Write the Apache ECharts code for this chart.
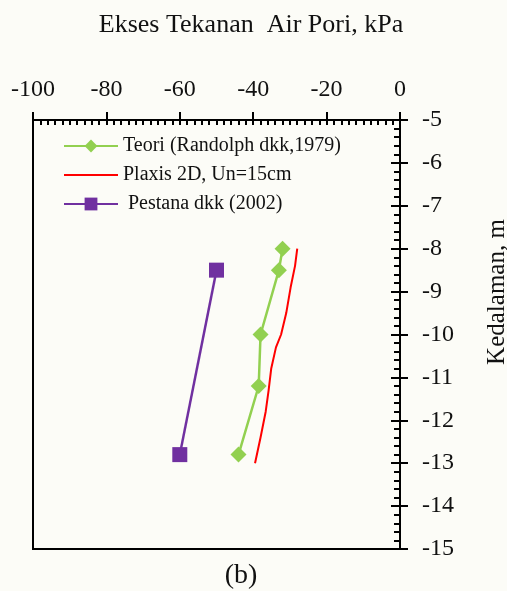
<!DOCTYPE html>
<html>
<head>
<meta charset="utf-8">
<script src="https://cdn.jsdelivr.net/npm/echarts@6/dist/echarts.min.js"></script>
<style>
  html, body { margin: 0; padding: 0; background: #fcfcf7; }
  #chart { width: 507px; height: 591px; }
</style>
</head>
<body>
<div id="chart"></div>
<script>
// data: [tekanan kPa, kedalaman m]
var teori = [[-32, -8], [-33, -8.5], [-38, -10], [-38.5, -11.2], [-44, -12.8]];
var plaxis = [[-28, -8], [-28.6, -8.4], [-29.8, -8.9], [-31, -9.5], [-32.4, -10], [-33.8, -10.3],
              [-35.1, -10.8], [-35.8, -11.3], [-36.6, -11.8], [-38, -12.4], [-39.5, -13]];
var pestana = [[-50, -8.5], [-60, -12.8]];

var names = ['Teori (Randolph dkk,1979)', 'Plaxis 2D, Un=15cm', ' Pestana dkk (2002)'];
var xMin = -100, xMax = 0, xStep = 20;
var yMin = -15, yMax = -5, yStep = 1;

var serif = 'Liberation Serif';
var chartDom = document.getElementById('chart');
var myChart = echarts.init(chartDom);
var option = {
    backgroundColor: '#fcfcf7',
    animation: false,
    grid: {
      left: 33,
      right: 107,
      top: 120,
      bottom: 42,
      show: true,
      borderColor: '#000',
      borderWidth: 2,
      backgroundColor: 'transparent'
    },
    graphic: [
      {
        type: 'text', x: 251, y: 25,
        style: { text: 'Ekses Tekanan  Air Pori, kPa', font: '26px "Liberation Serif"', fill: '#111',
                 textAlign: 'center', textVerticalAlign: 'middle' }
      },
      {
        type: 'text', x: 497, y: 292, rotation: Math.PI / 2,
        style: { text: 'Kedalaman, m', font: '25px "Liberation Serif"', fill: '#111',
                 textAlign: 'center', textVerticalAlign: 'middle' }
      },
      {
        type: 'text', x: 241, y: 576,
        style: { text: '(b)', font: '28px "Liberation Serif"', fill: '#111',
                 textAlign: 'center', textVerticalAlign: 'middle' }
      }
    ],
    legend: {
      orient: 'vertical',
      left: 58,
      top: 131,
      itemWidth: 54,
      itemHeight: 16,
      itemGap: 9,
      data: [
        { name: names[0] },
        { name: names[1], itemStyle: { opacity: 0 } },
        { name: names[2] }
      ],
      textStyle: { fontFamily: serif, fontSize: 20, color: '#111' }
    },
    xAxis: [
      {
        type: 'value', position: 'top', min: xMin, max: xMax, interval: xStep,
        axisLine: { lineStyle: { color: '#000', width: 2 } },
        axisTick: { show: true, inside: false, length: 8, lineStyle: { color: '#000', width: 2 } },
        axisLabel: { margin: 18, fontFamily: serif, fontSize: 24, color: '#111' },
        splitLine: { show: false }
      },
      {
        type: 'value', position: 'top', min: xMin, max: xMax, interval: xStep,
        axisLine: { show: false },
        axisTick: { show: true, inside: true, length: 5, lineStyle: { color: '#000', width: 2 } },
        minorTick: { show: true, splitNumber: 10, length: 5, lineStyle: { color: '#000', width: 2 } },
        axisLabel: { show: false },
        splitLine: { show: false }
      }
    ],
    yAxis: [
      {
        type: 'value', position: 'right', min: yMin, max: yMax, interval: yStep,
        axisLine: { lineStyle: { color: '#000', width: 2 } },
        axisTick: { show: true, inside: false, length: 8, lineStyle: { color: '#000', width: 2 } },
        axisLabel: { margin: 22, fontFamily: serif, fontSize: 24, color: '#111' },
        splitLine: { show: false }
      },
      {
        type: 'value', position: 'right', min: yMin, max: yMax, interval: yStep,
        axisLine: { show: false },
        axisTick: { show: true, inside: true, length: 9, lineStyle: { color: '#000', width: 2 } },
        minorTick: { show: true, splitNumber: 5, length: 6, lineStyle: { color: '#000', width: 2 } },
        axisLabel: { show: false },
        splitLine: { show: false }
      }
    ],
    series: [
      {
        name: names[0],
        type: 'line',
        data: teori,
        symbol: 'diamond',
        symbolSize: 16,
        color: '#92d050',
        lineStyle: { width: 2.5, color: '#92d050' },
        itemStyle: { color: '#92d050' }
      },
      {
        name: names[1],
        type: 'line',
        data: plaxis,
        symbol: 'none',
        color: '#ff0000',
        lineStyle: { width: 2, color: '#ff0000' }
      },
      {
        name: names[2],
        type: 'line',
        data: pestana,
        symbol: 'rect',
        symbolSize: 15,
        color: '#7030a0',
        lineStyle: { width: 2.5, color: '#7030a0' },
        itemStyle: { color: '#7030a0' }
      }
    ]
};
myChart.setOption(option);
</script>
</body>
</html>
